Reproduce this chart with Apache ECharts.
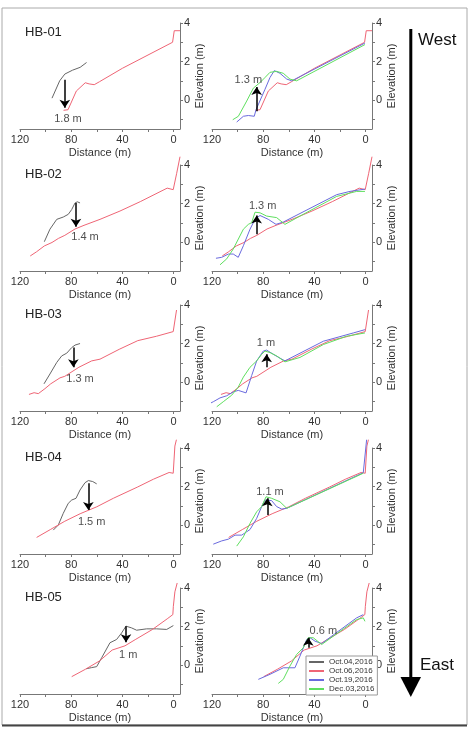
<!DOCTYPE html>
<html>
<head>
<meta charset="utf-8">
<title>Beach profiles HB-01 to HB-05</title>
<script src="https://cdn.jsdelivr.net/npm/echarts@6/dist/echarts.min.js"></script>
<style>
  html, body { margin: 0; padding: 0; background: #fff; }
  #chart { width: 469px; height: 736px; }
</style>
</head>
<body>
<div id="chart"></div>
<script>
// profiles, surveys and axis ticks
const profiles = ['HB-01', 'HB-02', 'HB-03', 'HB-04', 'HB-05'];
const surveys = ['Oct.04,2016', 'Oct.06,2016', 'Oct.19,2016', 'Dec.03,2016'];
const xLabels = [0, 40, 80, 120];
const xTickValues = [0, 20, 40, 60, 80, 100, 120];
const yLabels = [0, 2, 4];
const yTickValues = [-1, 0, 1, 2, 3, 4];

// profile points: [distance (m), elevation (m)]
const hb01Oct04 = [[95,0.1],[89,1.0],[85,1.35],[79,1.55],[73,1.7],[68,1.95]];
const hb01Oct06 = [[86,-0.53],[82.5,-0.5],[76,0.47],[69,0.9],[66,0.84],[62,0.8],[58,0.95],[40,1.65],[0.8,3.0],[-0.5,3.6],[-5,3.6]];
const hb01Oct19 = [[100.7,-1.14],[95.5,-0.84],[91.6,-0.8],[87,-0.84],[85.6,-0.5],[78.6,0.56],[74.7,1.17],[71.3,1.53],[66.9,1.39],[61.6,1.09],[57.7,1.0],[0.5,2.96]];
const hb01Dec03 = [[103.8,-1.02],[99.4,-0.84],[92.9,-0.05],[87.7,0.62],[82.5,0.91],[78.6,1.17],[74.7,1.44],[69.5,1.49],[64.3,1.39],[59.1,1.09],[53.9,1.0],[0.5,2.88]];

const hb02Oct04 = [[101,0.02],[96.6,0.67],[91.3,1.18],[86.2,1.3],[82.3,1.44],[79.6,1.69],[77,2.03],[75.2,2.09],[73.1,2.03]];
const hb02Oct06 = [[112,-0.72],[107,-0.5],[101,-0.2],[95,-0.02],[90,0.19],[85,0.35],[77,0.68],[70,0.87],[57.5,1.18],[41.9,1.61],[26,2.1],[5,2.8],[0.3,2.72],[-2.4,3.57],[-5,4.43]];
const hb02Oct19 = [[116.9,-0.84],[112.4,-0.79],[107.2,-0.62],[103.4,-0.62],[99.5,-0.79],[95.5,-0.19],[90.3,0.67],[86.4,1.18],[82.5,1.38],[76,1.18],[70,0.92],[64.3,1.04],[22.6,2.46],[12.2,2.63],[0.5,2.75]];
const hb02Dec03 = [[113.75,-1.18],[108.5,-0.87],[103.4,-0.36],[95.5,0.67],[91.6,0.92],[89,1.01],[86.4,1.55],[82.5,1.52],[77.3,1.35],[69.5,1.27],[63,0.92],[51.25,1.35],[22.6,2.37],[7,2.63],[0.5,2.63]];

const hb03Oct04 = [[101.25,-0.09],[96.6,0.42],[91.3,1.02],[87.4,1.36],[83.5,1.5],[79.6,1.79],[77,1.92],[73.1,2.0]];
const hb03Oct06 = [[113,-0.64],[109,-0.55],[105.7,-0.6],[100.5,-0.34],[96,-0.09],[88.75,0.22],[85,0.3],[74,0.77],[64,1.1],[57.5,1.19],[42.5,1.7],[28,2.15],[13.3,2.38],[0.3,2.62],[-2.3,3.74]];
const hb03Oct19 = [[124.1,-1.19],[119,-1.02],[113.75,-0.82],[108.5,-0.71],[103.4,-0.51],[99.5,-0.43],[93.4,-0.56],[89,0.34],[85.1,1.1],[79.9,1.61],[77.3,1.66],[70.8,1.39],[63,1.1],[33,2.12],[9.6,2.55],[0.5,2.72]];
const hb03Dec03 = [[116.3,-1.28],[111.2,-1.02],[104.6,-0.68],[99.5,-0.26],[95.5,0.26],[90.3,0.77],[85.1,1.1],[81.2,1.44],[78.6,1.61],[74.7,1.53],[69.5,1.36],[63,1.05],[51.25,1.28],[33,1.95],[14.8,2.38],[0.5,2.55]];

const hb04Oct04 = [[94,-0.26],[90.1,0],[86.2,0.61],[82.3,1.13],[79.6,1.3],[76.25,1.39],[73.1,1.82],[69.2,2.2],[66.6,2.31],[63.2,2.26],[60.1,2.14]];
const hb04Oct06 = [[107,-0.64],[96,-0.22],[85,0.2],[73,0.59],[60,0.95],[47.1,1.39],[28,1.98],[15.8,2.38],[3.5,2.73],[0.3,2.69],[-1,4.1],[-2.2,4.43]];
const hb04Oct19 = [[119,-0.99],[112.4,-0.82],[107.2,-0.73],[102,-0.52],[96.8,-0.52],[90.3,-0.23],[85.1,0.35],[81.2,0.96],[78.6,1.3],[73.4,1.27],[69.5,0.96],[65.5,0.83],[61.6,0.87],[1.8,2.72],[0.5,2.7],[-0.8,4.43]];
const hb04Dec03 = [[100.7,-1.09],[95.5,-0.61],[90.3,0.09],[85.1,0.69],[81.2,0.96],[77.8,1.47],[73.4,1.39],[66.9,1.21],[61.6,0.87],[1.8,2.69]];

const hb05Oct04 = [[68.4,-0.19],[64,-0.13],[60.1,-0.08],[56.2,0.38],[49.7,1.16],[44.5,1.33],[40.6,1.67],[37.2,2.02],[32.8,1.93],[28.9,1.81],[21.1,1.88],[13.3,1.88],[5.4,1.85],[0.2,2.05]];
const hb05Oct06 = [[79.6,-0.6],[69,-0.22],[58,0.21],[48,0.78],[38,1.0],[30,1.32],[16.5,1.85],[5,2.4],[0.6,2.62],[0.2,3.05],[-1,3.8],[-2.8,4.26]];
const hb05Oct19 = [[83.8,-0.74],[74.7,-0.48],[64.3,-0.14],[59.1,-0.14],[55.2,-0.14],[51.25,0.47],[46,1.33],[43.4,1.42],[39.5,1.24],[34.3,1.12],[7,2.45],[1.8,2.62]];
const hb05Dec03 = [[68.2,-0.95],[64.3,-0.74],[59.1,-0.05],[53.9,0.55],[48.7,0.9],[44.8,1.42],[40.9,1.42],[34.3,1.07],[7,2.36],[1.8,2.45],[0.5,2.27]];

// arrows: [distance, from elevation, to elevation]; labels: [distance, elevation, text]
const erosionArrows = [[85,1.05,-0.4],[76.3,2.03,0.8],[78.3,1.79,0.77],[66.6,2.17,0.78],[37.2,2.02,1.19]];
const erosionLabels = [[82.5,-1.0,'1.8 m'],[69.2,0.29,'1.4 m'],[73.1,0.17,'1.3 m'],[64,0.17,'1.5 m'],[35.4,0.55,'1 m']];
const recoveryArrows = [[85.1,-0.58,0.68],[85.1,0.41,1.38],[77.3,0.77,1.44],[76.8,0.52,1.39],[44.8,0.9,1.42]];
const recoveryLabels = [[91.6,1.05,'1.3 m'],[80.4,1.86,'1.3 m'],[77.8,2.04,'1 m'],[74.7,1.73,'1.1 m'],[33,1.76,'0.6 m']];

const oct04 = [hb01Oct04, hb02Oct04, hb03Oct04, hb04Oct04, hb05Oct04];
const oct06 = [hb01Oct06, hb02Oct06, hb03Oct06, hb04Oct06, hb05Oct06];
const oct19 = [hb01Oct19, hb02Oct19, hb03Oct19, hb04Oct19, hb05Oct19];
const dec03 = [hb01Dec03, hb02Dec03, hb03Dec03, hb04Dec03, hb05Dec03];

const colors = ['#666666', '#ef6575', '#6a6ade', '#5fdf5f'];
const font = 'Liberation Sans, Arial, sans-serif';
const axisColor = '#777';
const rowTop = [23, 165, 305, 448, 588];

const grids = [], xAxes = [], yAxes = [], series = [], titles = [];

function profileLine(name, data, gi, color) {
  return {
    type: 'line', name: name, data: data, xAxisIndex: gi, yAxisIndex: gi,
    symbol: 'none', clip: false, silent: true, animation: false,
    lineStyle: { width: 1, color: color }, itemStyle: { color: color }
  };
}

function note(gi, arrow, label) {
  return {
    type: 'scatter', xAxisIndex: gi, yAxisIndex: gi, symbolSize: 0,
    silent: true, clip: false, animation: false, z: 5,
    data: [[label[0], label[1], label[2]]],
    label: { show: true, position: 'inside', formatter: p => p.value[2], color: '#222', fontSize: 11, fontFamily: font },
    markLine: {
      silent: true, animation: false,
      symbol: ['none', 'arrow'], symbolSize: 8,
      lineStyle: { color: '#000', width: 1.5, type: 'solid' },
      itemStyle: { color: '#000' },
      label: { show: false },
      data: [[{ coord: [arrow[0], arrow[1]] }, { coord: [arrow[0], arrow[2]] }]]
    }
  };
}

profiles.forEach((name, i) => {
  [20, 212].forEach((left, j) => {
    grids.push({ left: left, top: rowTop[i], width: 160, height: 106, outerBoundsMode: 'none' });
    const gi = grids.length - 1;
    xAxes.push({
      type: 'value', gridIndex: gi, min: -5, max: 120, inverse: true,
      name: 'Distance (m)', nameLocation: 'middle', nameGap: 18,
      nameTextStyle: { fontSize: 11, color: '#333', fontFamily: font },
      axisLine: { show: true, onZero: false, lineStyle: { color: axisColor } },
      axisTick: { show: true, customValues: xTickValues, length: 3, lineStyle: { color: axisColor } },
      axisLabel: { customValues: xLabels, fontSize: 11, color: '#333', margin: 5, fontFamily: font },
      splitLine: { show: false }
    });
    yAxes.push({
      type: 'value', gridIndex: gi, position: 'right', min: -1.5, max: 4,
      name: 'Elevation (m)', nameLocation: 'middle', nameGap: 14, nameRotate: 90,
      nameTextStyle: { fontSize: 11, color: '#333', fontFamily: font },
      axisLine: { show: true, onZero: false, lineStyle: { color: axisColor } },
      axisTick: { show: true, customValues: yTickValues, length: 3, lineStyle: { color: axisColor } },
      axisLabel: { customValues: yLabels, fontSize: 11, color: '#333', margin: 4, fontFamily: font },
      splitLine: { show: false }
    });
    if (j === 0) {
      series.push(profileLine(surveys[0], oct04[i], gi, colors[0]));
      series.push(profileLine(surveys[1], oct06[i], gi, colors[1]));
      series.push(note(gi, erosionArrows[i], erosionLabels[i]));
    } else {
      series.push(profileLine(surveys[1], oct06[i], gi, colors[1]));
      series.push(profileLine(surveys[2], oct19[i], gi, colors[2]));
      series.push(profileLine(surveys[3], dec03[i], gi, colors[3]));
      series.push(note(gi, recoveryArrows[i], recoveryLabels[i]));
    }
  });
  titles.push({
    text: name, left: 25, top: rowTop[i] + 3, padding: 0,
    textStyle: { fontSize: 13, fontWeight: 'normal', color: '#222', fontFamily: font }
  });
});

const chart = echarts.init(document.getElementById('chart'), null, { renderer: 'canvas' });
chart.setOption({
  backgroundColor: '#fff',
  animation: false,
  textStyle: { fontFamily: font },
  title: titles,
  grid: grids,
  xAxis: xAxes,
  yAxis: yAxes,
  series: series,
  legend: {
    data: surveys, orient: 'vertical', left: 306, top: 656,
    itemWidth: 15, itemHeight: 8, itemGap: 1, itemTextGap: 4,
    padding: [2, 3, 2, 2],
    itemStyle: { opacity: 0 },
    backgroundColor: '#fff', borderColor: '#999', borderWidth: 1,
    textStyle: { fontSize: 8, color: '#333', fontFamily: font },
    selectedMode: false
  },
  graphic: [
    { type: 'rect', shape: { x: 2, y: 8, width: 465, height: 717 }, style: { fill: null, stroke: '#aaa', lineWidth: 1 }, silent: true },
    { type: 'line', shape: { x1: 2, y1: 725.5, x2: 467, y2: 725.5 }, style: { stroke: '#444', lineWidth: 2 }, silent: true },
    { type: 'line', shape: { x1: 410.8, y1: 29, x2: 410.8, y2: 680 }, style: { stroke: '#000', lineWidth: 3 }, silent: true },
    { type: 'polygon', shape: { points: [[400.5, 677], [421, 677], [410.8, 697]] }, style: { fill: '#000' }, silent: true },
    { type: 'text', left: 418, top: 32, style: { text: 'West', fontSize: 17, fill: '#111', fontFamily: font }, silent: true },
    { type: 'text', left: 420, top: 657, style: { text: 'East', fontSize: 17, fill: '#111', fontFamily: font }, silent: true }
  ]
});
</script>
</body>
</html>
